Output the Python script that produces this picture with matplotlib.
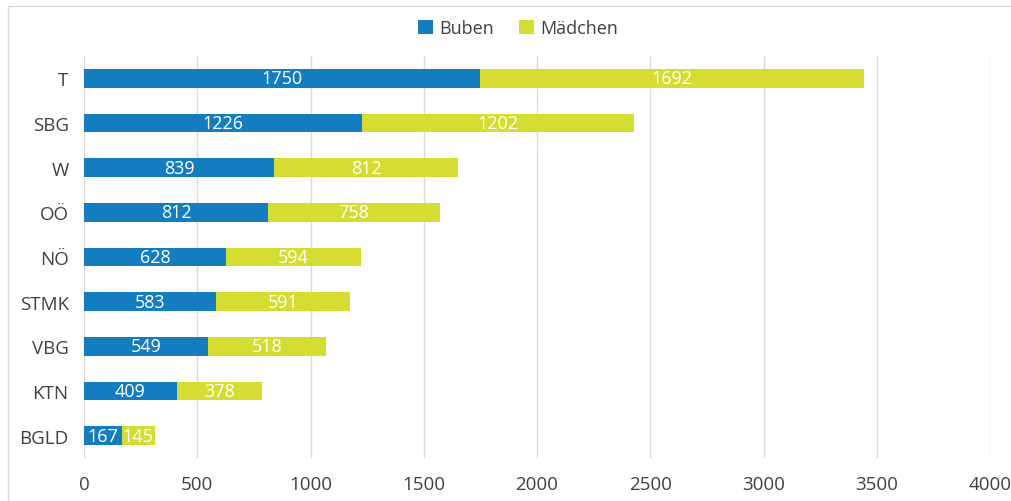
import matplotlib
matplotlib.use("Agg")
import matplotlib.pyplot as plt
from matplotlib.patches import Rectangle

regions = ["T", "SBG", "W", "OÖ", "NÖ", "STMK", "VBG", "KTN", "BGLD"]
buben = [1750, 1226, 839, 812, 628, 583, 549, 409, 167]
maedchen = [1692, 1202, 812, 758, 594, 591, 518, 378, 145]
xticks = [0, 500, 1000, 1500, 2000, 2500, 3000, 3500, 4000]

blue = "#137dc0"
green = "#d5dc32"

plt.rcParams["font.family"] = ["Open Sans", "DejaVu Sans"]

W, H = 1011, 502
fig = plt.figure(figsize=(W / 100, H / 100), dpi=100)
fig.patch.set_facecolor("white")

# chart frame
fig.add_artist(Rectangle((8 / W, -0.05), 1.2, 1 - 7 / H + 0.05,
                         transform=fig.transFigure, fill=False,
                         edgecolor="#d9d9d9", linewidth=1.0))

ax = fig.add_axes([84 / W, 1 - 459 / H, (990 - 84) / W, (459 - 57) / H])
ax.set_xlim(0, 4000)
ax.set_ylim(len(regions) - 0.5, -0.5)

ypos = list(range(len(regions)))
ax.barh(ypos, buben, height=0.42, color=blue, label="Buben", zorder=2)
ax.barh(ypos, maedchen, left=buben, height=0.42, color=green,
        label="Mädchen", zorder=2)

for y, b, m in zip(ypos, buben, maedchen):
    ax.text(b / 2, y, str(b), ha="center", va="center", color="white",
            fontsize=13, zorder=3)
    ax.text(b + m / 2, y, str(m), ha="center", va="center", color="white",
            fontsize=13, zorder=3)

ax.set_yticks(ypos)
ax.set_yticklabels(regions, fontsize=13.5, color="#404040")
ax.set_xticks(xticks)
ax.set_xticklabels([str(t) for t in xticks], fontsize=13.5, color="#404040")
ax.tick_params(axis="both", length=0)
ax.tick_params(axis="x", pad=12)
ax.tick_params(axis="y", pad=11)
ax.grid(axis="x", color="#d9d9d9", linewidth=1.0, zorder=0)
for s in ax.spines.values():
    s.set_visible(False)

fig.legend(loc="center", bbox_to_anchor=(518 / W, 1 - 29 / H), ncol=2,
           frameon=False, fontsize=13, handlelength=0.8, handleheight=0.8,
           handletextpad=0.35, columnspacing=1.4, labelcolor="#404040")

fig.savefig("out.png", dpi=100, facecolor="white")
